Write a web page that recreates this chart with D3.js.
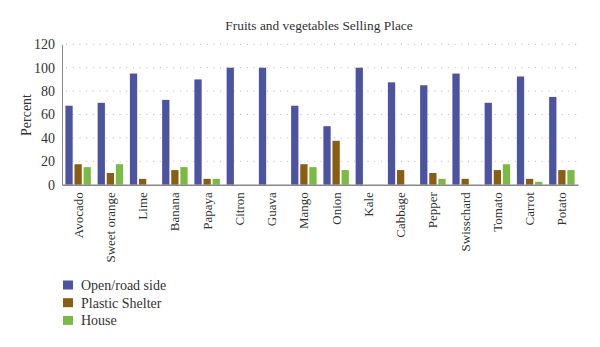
<!DOCTYPE html>
<html><head><meta charset="utf-8">
<script src="https://cdn.jsdelivr.net/npm/d3@7/dist/d3.min.js"></script>
<style>
body{margin:0;background:#fff;}
text{font-family:"Liberation Serif","DejaVu Serif",serif;fill:#333;}
</style></head>
<body><svg id="chart" width="600" height="347"></svg>
<script>
const categories = ["Avocado","Sweet orange","Lime","Banana","Papaya","Citron","Guava","Mango","Onion","Kale","Cabbage","Pepper","Swisschard","Tomato","Carrot","Potato"];
const seriesNames = ["Open/road side","Plastic Shelter","House"];
const openRoadSide = [67.5,70,95,72.5,90,100,100,67.5,50,100,87.5,85,95,70,92.5,75];
const plasticShelter = [17.5,10,5,12.5,5,0,0,17.5,37.5,0,12.5,10,5,12.5,5,12.5];
const house = [15,17.5,0,15,5,0,0,15,12.5,0,0,5,0,17.5,2.5,12.5];
const yTicks = [0,20,40,60,80,100,120];
const colors = ["#4c53a1","#8a5e12","#7bba45"];
const FONT = "Liberation Serif, DejaVu Serif, serif";

const svg = d3.select("#chart");
const m = {left:62, right:22, top:44.3, bottom:162.3};
const W = 600, H = 347;
const x = d3.scaleBand().domain(categories).range([m.left, W-m.right]).paddingInner(0.21).paddingOuter(0.105);
const xs = d3.scaleBand().domain(seriesNames).range([0, x.bandwidth()]).paddingInner(0.2);
const y = d3.scaleLinear().domain([0,120]).range([H-m.bottom, m.top]);
const series = [openRoadSide, plasticShelter, house];

// grid
svg.append("g").selectAll("line").data(yTicks.slice(1)).join("line")
  .attr("x1", m.left+4).attr("x2", W-m.right)
  .attr("y1", d=>y(d)).attr("y2", d=>y(d))
  .attr("stroke","#b5b5b5").attr("stroke-width",1).attr("stroke-dasharray","1,5.7");

// bars
categories.forEach((c,i)=>{
  series.forEach((s,j)=>{
    if (s[i] <= 0) return;
    svg.append("rect")
      .attr("x", x(c)+xs(seriesNames[j]))
      .attr("width", xs.bandwidth())
      .attr("y", y(s[i]))
      .attr("height", y(0)-y(s[i]))
      .attr("fill", colors[j]);
  });
});

// y axis
const yAxis = d3.axisLeft(y).tickValues(yTicks).tickSize(0).tickPadding(7);
const gy = svg.append("g").attr("transform",`translate(${m.left},0)`).call(yAxis)
  .attr("font-family", FONT).attr("font-size", 14);
gy.select(".domain").attr("stroke","#888");
gy.selectAll("text").attr("fill","#333");

// x axis
const xAxis = d3.axisBottom(x).tickSize(0).tickPadding(0);
const gx = svg.append("g").attr("transform",`translate(0,${y(0)})`).call(xAxis)
  .attr("font-family", FONT).attr("font-size", 13);
gx.select(".domain").attr("stroke","#888").attr("stroke-width",1.5);
gx.selectAll("text")
  .attr("fill","#333")
  .attr("transform","rotate(-90)")
  .attr("text-anchor","end")
  .attr("x",-7.5).attr("y",0).attr("dy","0.35em");

// title
svg.append("text").attr("x",319).attr("y",30).attr("text-anchor","middle")
  .attr("font-family", FONT).attr("font-size",13.4).text("Fruits and vegetables Selling Place");

// y label
svg.append("text").attr("transform","translate(31,115) rotate(-90)").attr("text-anchor","middle")
  .attr("font-family", FONT).attr("font-size",14).text("Percent");

// legend
const lg = svg.append("g").attr("font-family", FONT).attr("font-size",14);
seriesNames.forEach((n,j)=>{
  const cy = 285 + j*17.7;
  lg.append("rect").attr("x",63).attr("y",cy-4.5).attr("width",10).attr("height",9).attr("fill",colors[j]);
  lg.append("text").attr("x",81).attr("y",cy).attr("dy","0.35em").text(n);
});
</script></body></html>
